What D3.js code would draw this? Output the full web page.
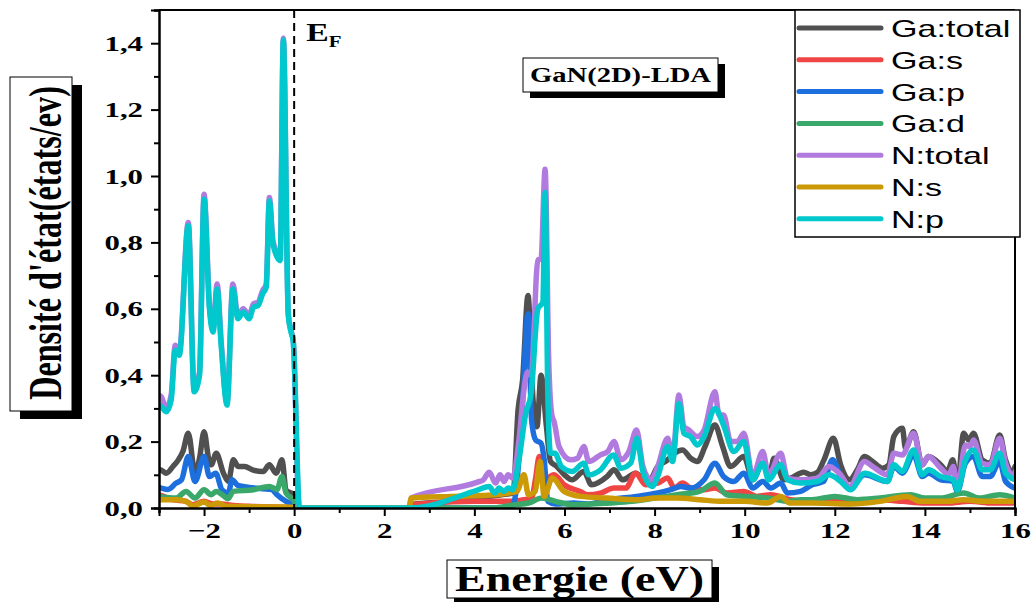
<!DOCTYPE html>
<html>
<head>
<meta charset="utf-8">
<script src="https://cdn.jsdelivr.net/npm/d3@7"></script>
<style>
  body { margin: 0; background: #fff; }
  svg { display: block; }
</style>
</head>
<body>
<div id="chart"></div>
<script>
// DOS data [energy (eV), density]
const gaTotal = [[-3.0,0.115],[-2.95,0.114],[-2.84,0.105],[-2.69,0.125],[-2.57,0.145],[-2.47,0.17],[-2.35,0.225],[-2.2,0.105],[-2.1,0.15],[-2.0,0.23],[-1.9,0.15],[-1.84,0.13],[-1.73,0.165],[-1.57,0.105],[-1.46,0.08],[-1.35,0.145],[-1.24,0.125],[-1.1,0.125],[-0.91,0.114],[-0.69,0.11],[-0.55,0.13],[-0.4,0.105],[-0.27,0.145],[-0.18,0.054],[-0.02,0.04],[0.1,0.0],[2.55,0.0],[2.6,0.01],[3.5,0.02],[4.3,0.035],[4.6,0.04],[4.86,0.045],[4.97,0.295],[5.07,0.385],[5.19,0.64],[5.3,0.33],[5.39,0.245],[5.48,0.40],[5.6,0.245],[5.69,0.14],[5.83,0.125],[6.0,0.1],[6.17,0.085],[6.43,0.11],[6.6,0.07],[6.95,0.095],[7.1,0.115],[7.29,0.085],[7.58,0.105],[7.85,0.075],[8.07,0.125],[8.29,0.145],[8.44,0.165],[8.62,0.175],[8.8,0.15],[8.95,0.14],[9.12,0.185],[9.34,0.25],[9.5,0.19],[9.69,0.125],[9.98,0.155],[10.18,0.085],[10.4,0.135],[10.55,0.1],[10.65,0.15],[10.87,0.085],[11.02,0.09],[11.31,0.108],[11.46,0.1],[11.62,0.108],[11.76,0.145],[11.97,0.21],[12.13,0.13],[12.33,0.085],[12.5,0.115],[12.66,0.155],[12.84,0.14],[13.06,0.12],[13.2,0.13],[13.31,0.215],[13.5,0.24],[13.57,0.18],[13.75,0.23],[13.94,0.13],[14.08,0.155],[14.35,0.13],[14.5,0.11],[14.62,0.145],[14.72,0.065],[14.86,0.225],[14.97,0.205],[15.08,0.225],[15.27,0.145],[15.45,0.135],[15.66,0.22],[15.79,0.145],[15.94,0.108],[16.0,0.125]];

const gaS = [[-3.0,0.04],[-2.9,0.035],[-2.7,0.025],[-2.4,0.02],[-2.25,0.01],[-2.0,0.02],[-1.8,0.012],[-1.6,0.012],[-1.4,0.008],[-1.0,0.005],[-0.5,0.003],[0.0,0.002],[0.1,0],[2.55,0],[2.6,0.01],[4.0,0.02],[4.8,0.02],[5.1,0.025],[5.27,0.03],[5.36,0.09],[5.44,0.155],[5.5,0.09],[5.55,0.07],[5.65,0.09],[5.77,0.1],[5.99,0.07],[6.35,0.05],[6.5,0.04],[6.8,0.045],[7.1,0.06],[7.36,0.06],[7.58,0.105],[7.8,0.07],[8.07,0.075],[8.29,0.09],[8.44,0.06],[8.62,0.075],[8.8,0.06],[9.1,0.055],[9.34,0.06],[9.61,0.045],[9.98,0.05],[10.27,0.035],[10.58,0.04],[11.02,0.025],[11.5,0.02],[12.0,0.025],[12.5,0.02],[13.0,0.025],[13.5,0.02],[14.0,0.015],[14.5,0.015],[15.0,0.02],[15.5,0.015],[16.0,0.015]];

const gaP = [[-3.0,0.062],[-2.95,0.06],[-2.8,0.056],[-2.62,0.075],[-2.5,0.085],[-2.35,0.155],[-2.2,0.08],[-2.0,0.155],[-1.88,0.095],[-1.74,0.105],[-1.6,0.054],[-1.46,0.045],[-1.38,0.085],[-1.25,0.068],[-1.0,0.062],[-0.7,0.058],[-0.5,0.056],[-0.38,0.04],[-0.18,0.02],[0.0,0.01],[0.1,0],[4.7,0],[4.85,0.01],[4.92,0.045],[5.07,0.32],[5.19,0.585],[5.27,0.265],[5.36,0.205],[5.48,0.195],[5.55,0.145],[5.63,0.02],[5.8,0.012],[6.2,0.015],[6.5,0.012],[7.0,0.025],[7.6,0.035],[8.07,0.045],[8.36,0.055],[8.58,0.065],[8.8,0.06],[9.1,0.085],[9.34,0.135],[9.53,0.095],[9.76,0.08],[9.98,0.105],[10.18,0.06],[10.4,0.08],[10.58,0.06],[10.8,0.075],[10.95,0.045],[11.24,0.05],[11.5,0.07],[11.75,0.08],[11.95,0.145],[12.13,0.095],[12.35,0.06],[12.66,0.1],[13.17,0.08],[13.31,0.125],[13.5,0.105],[13.75,0.16],[13.94,0.095],[14.08,0.105],[14.35,0.085],[14.63,0.08],[14.72,0.05],[14.9,0.135],[15.08,0.155],[15.27,0.095],[15.45,0.095],[15.66,0.14],[15.79,0.08],[16.0,0.06]];

const gaD = [[-3.0,0.035],[-2.62,0.03],[-2.4,0.05],[-2.2,0.03],[-2.0,0.055],[-1.84,0.04],[-1.73,0.05],[-1.55,0.035],[-1.47,0.028],[-1.35,0.05],[-0.9,0.055],[-0.55,0.065],[-0.38,0.056],[-0.27,0.095],[-0.18,0.045],[-0.02,0.025],[0.1,0],[4.4,0],[4.9,0.01],[5.2,0.015],[5.5,0.03],[5.8,0.02],[6.2,0.01],[7.0,0.015],[7.5,0.02],[8.0,0.03],[8.5,0.04],[9.0,0.05],[9.34,0.075],[9.6,0.04],[10.0,0.035],[10.5,0.03],[11.0,0.02],[11.24,0.025],[11.5,0.025],[12.0,0.035],[12.5,0.025],[13.0,0.03],[13.68,0.04],[14.0,0.03],[14.35,0.03],[14.86,0.045],[15.2,0.03],[15.66,0.04],[16.0,0.03]];

const nTotal = [[-3.0,0.34],[-2.95,0.335],[-2.84,0.30],[-2.73,0.34],[-2.64,0.49],[-2.55,0.47],[-2.35,0.86],[-2.22,0.36],[-2.1,0.41],[-2.0,0.945],[-1.88,0.61],[-1.8,0.54],[-1.71,0.675],[-1.62,0.50],[-1.49,0.32],[-1.36,0.675],[-1.25,0.58],[-1.13,0.60],[-1.0,0.58],[-0.9,0.615],[-0.8,0.62],[-0.7,0.655],[-0.62,0.675],[-0.55,0.935],[-0.47,0.805],[-0.31,0.755],[-0.24,1.415],[-0.13,0.585],[-0.07,0.535],[-0.02,0.505],[0.11,0.0],[2.55,0],[2.6,0.03],[4.07,0.078],[4.2,0.085],[4.33,0.108],[4.47,0.075],[4.57,0.1],[4.66,0.08],[4.75,0.1],[4.85,0.09],[4.99,0.205],[5.1,0.355],[5.18,0.41],[5.26,0.40],[5.41,0.747],[5.48,0.75],[5.57,1.02],[5.65,0.445],[5.72,0.28],[5.77,0.26],[5.88,0.185],[6.14,0.145],[6.29,0.15],[6.43,0.185],[6.54,0.14],[6.8,0.16],[6.96,0.17],[7.1,0.2],[7.25,0.145],[7.43,0.17],[7.6,0.235],[7.74,0.125],[7.92,0.085],[8.07,0.125],[8.29,0.21],[8.4,0.15],[8.54,0.34],[8.65,0.245],[8.76,0.235],[8.95,0.215],[9.1,0.235],[9.34,0.35],[9.43,0.28],[9.53,0.28],[9.69,0.2],[9.84,0.2],[9.98,0.225],[10.18,0.095],[10.4,0.17],[10.53,0.1],[10.8,0.165],[10.95,0.09],[11.24,0.085],[11.62,0.09],[11.87,0.125],[12.13,0.1],[12.33,0.065],[12.66,0.14],[12.84,0.125],[13.17,0.1],[13.31,0.165],[13.5,0.16],[13.75,0.225],[13.94,0.13],[14.08,0.155],[14.35,0.12],[14.53,0.1],[14.63,0.125],[14.72,0.06],[14.9,0.19],[15.0,0.185],[15.08,0.205],[15.27,0.135],[15.45,0.13],[15.66,0.21],[15.79,0.135],[15.98,0.095],[16.0,0.108]];

const nS = [[-3.0,0.025],[-2.6,0.025],[-2.4,0.02],[-2.25,0.006],[-2.0,0.018],[-1.85,0.008],[-1.7,0.015],[-1.5,0.005],[-1.0,0.004],[-0.5,0.003],[0.0,0.002],[0.1,0],[2.55,0],[2.6,0.03],[3.5,0.035],[4.5,0.04],[4.75,0.045],[4.95,0.05],[5.1,0.1],[5.2,0.04],[5.35,0.05],[5.46,0.14],[5.55,0.035],[5.73,0.09],[5.99,0.05],[6.35,0.035],[6.95,0.03],[7.65,0.025],[8.0,0.03],[8.5,0.03],[9.0,0.025],[9.5,0.02],[10.0,0.02],[10.5,0.015],[10.8,0.035],[11.0,0.015],[11.5,0.015],[12.35,0.012],[13.0,0.02],[13.6,0.035],[13.9,0.02],[14.5,0.02],[14.86,0.025],[15.3,0.02],[15.79,0.02],[16.0,0.02]];

const nP = [[-3.0,0.31],[-2.95,0.305],[-2.84,0.29],[-2.73,0.325],[-2.64,0.475],[-2.55,0.46],[-2.35,0.85],[-2.22,0.35],[-2.1,0.40],[-2.0,0.93],[-1.88,0.60],[-1.8,0.53],[-1.71,0.66],[-1.62,0.49],[-1.49,0.31],[-1.36,0.66],[-1.25,0.57],[-1.13,0.59],[-1.0,0.57],[-0.9,0.605],[-0.8,0.61],[-0.7,0.645],[-0.62,0.665],[-0.55,0.925],[-0.47,0.795],[-0.31,0.745],[-0.24,1.41],[-0.13,0.58],[-0.07,0.53],[-0.02,0.50],[0.12,0.0],[2.6,0],[4.07,0.054],[4.33,0.065],[4.45,0.045],[4.55,0.06],[4.65,0.05],[4.75,0.06],[4.85,0.055],[4.99,0.145],[5.14,0.285],[5.26,0.345],[5.41,0.6],[5.52,0.62],[5.57,0.95],[5.63,0.345],[5.69,0.165],[5.79,0.165],[5.93,0.125],[6.17,0.11],[6.43,0.135],[6.54,0.1],[6.8,0.115],[7.09,0.16],[7.25,0.12],[7.47,0.135],[7.61,0.21],[7.74,0.11],[7.95,0.065],[8.07,0.095],[8.29,0.185],[8.4,0.14],[8.54,0.315],[8.65,0.225],[8.8,0.215],[8.95,0.19],[9.1,0.215],[9.34,0.30],[9.53,0.25],[9.76,0.17],[9.98,0.2],[10.18,0.085],[10.4,0.135],[10.53,0.085],[10.8,0.13],[10.95,0.085],[11.24,0.075],[11.62,0.08],[11.87,0.1],[12.13,0.08],[12.35,0.055],[12.66,0.105],[13.17,0.08],[13.31,0.13],[13.5,0.11],[13.75,0.175],[13.94,0.1],[14.08,0.115],[14.35,0.095],[14.63,0.085],[14.72,0.055],[14.9,0.145],[15.08,0.175],[15.27,0.115],[15.45,0.115],[15.66,0.165],[15.79,0.105],[16.0,0.085]];

const seriesNames = ["Ga:total", "Ga:s", "Ga:p", "Ga:d", "N:total", "N:s", "N:p"];
const seriesData = [gaTotal, gaS, gaP, gaD, nTotal, nS, nP];
const seriesColors = ["#505050", "#f04545", "#1c6fdc", "#3aa86a", "#b07ade", "#cc9a06", "#00c8cc"];

const xTicks = [-2, 0, 2, 4, 6, 8, 10, 12, 14, 16];
const yTicks = [0, 0.2, 0.4, 0.6, 0.8, 1.0, 1.2, 1.4];

const margin = {top: 10, right: 20, bottom: 94, left: 159},
    width = 1035 - margin.left - margin.right,
    height = 602 - margin.top - margin.bottom;

const root = d3.select("#chart")
    .append("svg")
    .attr("width", 1035)
    .attr("height", 602);

root.append("rect").attr("width", 1035).attr("height", 602).attr("fill", "#fff");

const svg = root.append("g")
    .attr("transform", `translate(${margin.left},${margin.top})`);

const x = d3.scaleLinear().domain([-3, 16]).range([0, width]);
const y = d3.scaleLinear().domain([0, 1.5]).range([height, 0]);

const serif = "'Liberation Serif', 'Times New Roman', serif";
const sans = "'Liberation Sans', Arial, sans-serif";
const comma = d => d3.format(".1f")(d).replace(".", ",");
const stretch = 1.4;

svg.append("clipPath").attr("id", "plotClip")
    .append("rect").attr("x", 0).attr("y", -2).attr("width", width).attr("height", height + 2);

// curves
const line = d3.line()
    .x(d => x(d[0]))
    .y(d => y(d[1]))
    .curve(d3.curveMonotoneX);

const lines = svg.append("g").attr("clip-path", "url(#plotClip)");
seriesData.forEach((s, i) => {
    lines.append("path")
        .datum(s)
        .attr("fill", "none")
        .attr("stroke", seriesColors[i])
        .attr("stroke-width", 5.5)
        .attr("stroke-linejoin", "round")
        .attr("stroke-linecap", "round")
        .attr("d", line);
});

// Fermi level
svg.append("line")
    .attr("x1", x(0)).attr("x2", x(0))
    .attr("y1", 0).attr("y2", height)
    .attr("stroke", "#000")
    .attr("stroke-width", 2)
    .attr("stroke-dasharray", "8,5");

const ef = svg.append("text")
    .attr("transform", `translate(${x(0) + 12},31) scale(1.3,1)`)
    .style("font-family", serif)
    .style("font-weight", "bold")
    .style("font-size", "26px");
ef.append("tspan").text("E");
ef.append("tspan").attr("dy", 6).style("font-size", "16px").text("F");

// frame
svg.append("line").attr("x1", 0).attr("x2", width).attr("y1", 0).attr("y2", 0).attr("stroke", "#000").attr("stroke-width", 2);
svg.append("line").attr("x1", width).attr("x2", width).attr("y1", 0).attr("y2", height).attr("stroke", "#000").attr("stroke-width", 2);

// axes
svg.append("g")
    .attr("class", "xaxis")
    .attr("transform", `translate(0,${height})`)
    .call(d3.axisBottom(x).tickValues(xTicks).tickSize(8).tickPadding(6).tickFormat(d3.format("d")));
svg.append("g")
    .attr("transform", `translate(0,${height})`)
    .call(d3.axisBottom(x).tickValues([-3, -1, 1, 3, 5, 7, 9, 11, 13, 15]).tickSize(5).tickFormat(""));

svg.append("g")
    .attr("class", "yaxis")
    .call(d3.axisLeft(y).tickValues(yTicks).tickSize(8).tickPadding(8).tickFormat(comma));
svg.append("g")
    .call(d3.axisLeft(y).tickValues([0.1, 0.3, 0.5, 0.7, 0.9, 1.1, 1.3, 1.5]).tickSize(5).tickFormat(""));

svg.selectAll(".domain").attr("stroke", "#000").attr("stroke-width", 2);
svg.selectAll(".tick line").attr("stroke", "#000").attr("stroke-width", 2);
svg.selectAll(".tick text")
    .style("font-family", serif)
    .style("font-weight", "bold")
    .style("font-size", "22px")
    .attr("fill", "#000");
svg.selectAll(".xaxis .tick text").attr("transform", `scale(${stretch},1)`);
svg.selectAll(".yaxis .tick text").attr("x", -16 / stretch).attr("transform", `scale(${stretch},1)`);

// boxed label helper
function boxedLabel(bx, by, bw, bh, off) {
    root.append("rect").attr("x", bx + off[0]).attr("y", by + off[1]).attr("width", bw).attr("height", bh).attr("fill", "#000");
    root.append("rect").attr("x", bx).attr("y", by).attr("width", bw).attr("height", bh)
        .attr("fill", "#fff").attr("stroke", "#000").attr("stroke-width", 1);
}

// x title
boxedLabel(447, 560, 265, 38, [7, 7]);
root.append("text")
    .attr("x", 455).attr("y", 591)
    .attr("textLength", 249).attr("lengthAdjust", "spacingAndGlyphs")
    .style("font-family", serif).style("font-weight", "bold").style("font-size", "36px")
    .text("Energie (eV)");

// y title (condensed along its baseline)
boxedLabel(10, 77, 62, 334, [10, 8]);
root.append("text")
    .attr("transform", "translate(61,243) rotate(-90) scale(0.7,1)")
    .attr("text-anchor", "middle")
    .style("font-family", serif).style("font-weight", "bold").style("font-size", "46px")
    .text("Densité d'état(états/ev)");

// plot title
boxedLabel(523, 58, 195, 34, [7, 6]);
root.append("text")
    .attr("x", 530).attr("y", 82)
    .attr("textLength", 181).attr("lengthAdjust", "spacingAndGlyphs")
    .style("font-family", serif).style("font-weight", "bold").style("font-size", "20px")
    .text("GaN(2D)-LDA");

// legend
const lg = root.append("g");
lg.append("rect").attr("x", 795).attr("y", 10).attr("width", 225).attr("height", 227)
    .attr("fill", "#fff").attr("stroke", "#000").attr("stroke-width", 1.5);
seriesNames.forEach((name, i) => {
    const ly = 28 + i * 31.8;
    lg.append("line")
        .attr("x1", 799).attr("x2", 881).attr("y1", ly).attr("y2", ly)
        .attr("stroke", seriesColors[i]).attr("stroke-width", 5).attr("stroke-linecap", "round");
    lg.append("text")
        .attr("transform", `translate(891,${ly + 9}) scale(1.42,1)`)
        .style("font-family", sans).style("font-size", "24px")
        .text(name);
});
</script>
</body>
</html>
